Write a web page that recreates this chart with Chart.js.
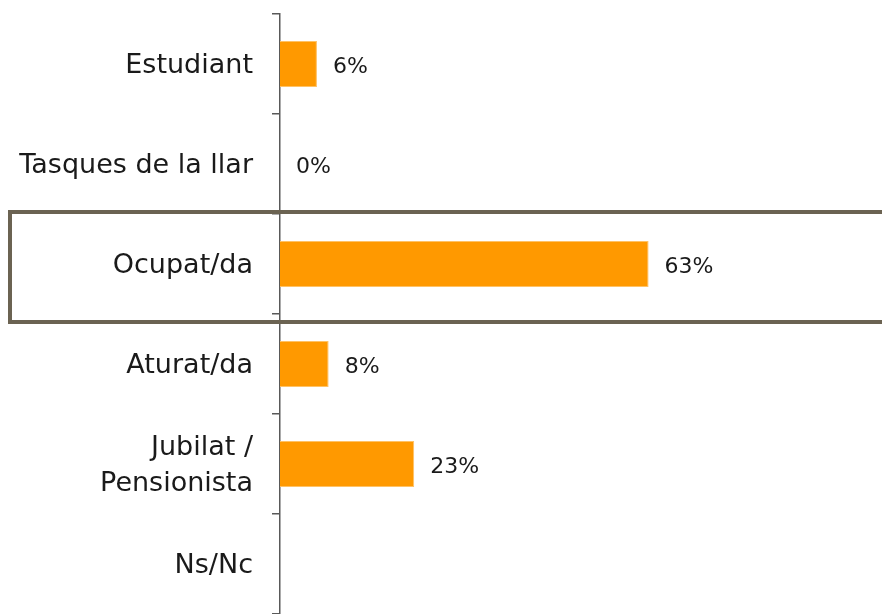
<!DOCTYPE html>
<html>
<head>
<meta charset="utf-8">
<script src="https://cdn.jsdelivr.net/npm/chart.js@4"></script>
<style>
    body { margin: 0; background: #fff; }
    #wrap { width: 882px; height: 614px; }
</style>
</head>
<body>
<div id="wrap"><canvas id="occupationChart"></canvas></div>
<script>
// categories and values (percent)
const categories = ['Estudiant', 'Tasques de la llar', 'Ocupat/da', 'Aturat/da', ['Jubilat /', 'Pensionista'], 'Ns/Nc'];
const percentages = [6.3, 0, 62.9, 8.3, 22.9, null];
const valueLabels = ['6%', '0%', '63%', '8%', '23%', ''];
const highlightIndex = 2;

Chart.defaults.font.family = "'DejaVu Sans', sans-serif";
Chart.defaults.color = '#1a1a1a';

// draws the "6%" style labels after each bar
const barValueLabels = {
    id: 'barValueLabels',
    afterDatasetsDraw(chart) {
        const ctx = chart.ctx;
        const meta = chart.getDatasetMeta(0);
        ctx.save();
        ctx.font = "22px 'DejaVu Sans'";
        ctx.fillStyle = '#1a1a1a';
        ctx.textAlign = 'left';
        ctx.textBaseline = 'middle';
        meta.data.forEach((bar, i) => {
            if (!valueLabels[i]) return;
            ctx.fillText(valueLabels[i], bar.x + 16, bar.y + 3);
        });
        ctx.restore();
    }
};

// frame round the highlighted row
const highlightBox = {
    id: 'highlightBox',
    afterDraw(chart) {
        const y = chart.scales.y;
        const mid = y.getPixelForValue(highlightIndex);
        const ctx = chart.ctx;
        ctx.save();
        ctx.strokeStyle = '#6b6352';
        ctx.lineWidth = 4;
        ctx.strokeRect(10, mid - 52, chart.width + 10, 110);
        ctx.restore();
    }
};

let occupationChartEl = document.getElementById('occupationChart').getContext('2d');
let occupationChart = new Chart(occupationChartEl, {
    type: 'bar',
    data: {
        labels: categories,
        datasets: [
            {
                data: percentages,
                backgroundColor: '#ff9900',
                borderColor: '#ffc266',
                borderWidth: 1,
                categoryPercentage: 1,
                barPercentage: 0.46
            }
        ]
    },
    options: {
        indexAxis: 'y',
        responsive: true,
        maintainAspectRatio: false,
        animation: false,
        layout: {
            padding: { top: 14, right: 16, bottom: 0, left: 0 }
        },
        scales: {
            x: {
                display: false,
                min: 0,
                max: 100
            },
            y: {
                afterFit: (scale) => {
                    scale.width = 280;
                    scale.paddingTop = 0;
                    scale.paddingBottom = 0;
                },
                grid: {
                    drawOnChartArea: false,
                    tickLength: 8,
                    color: '#595959',
                    lineWidth: 1.5
                },
                border: {
                    display: true,
                    color: '#595959',
                    width: 1.5
                },
                ticks: {
                    padding: 19,
                    labelOffset: 2,
                    font: { size: 27, lineHeight: 1.3 },
                    color: '#1a1a1a'
                }
            }
        },
        plugins: {
            legend: { display: false },
            tooltip: { enabled: false }
        }
    },
    plugins: [barValueLabels, highlightBox]
});
</script>
</body>
</html>
